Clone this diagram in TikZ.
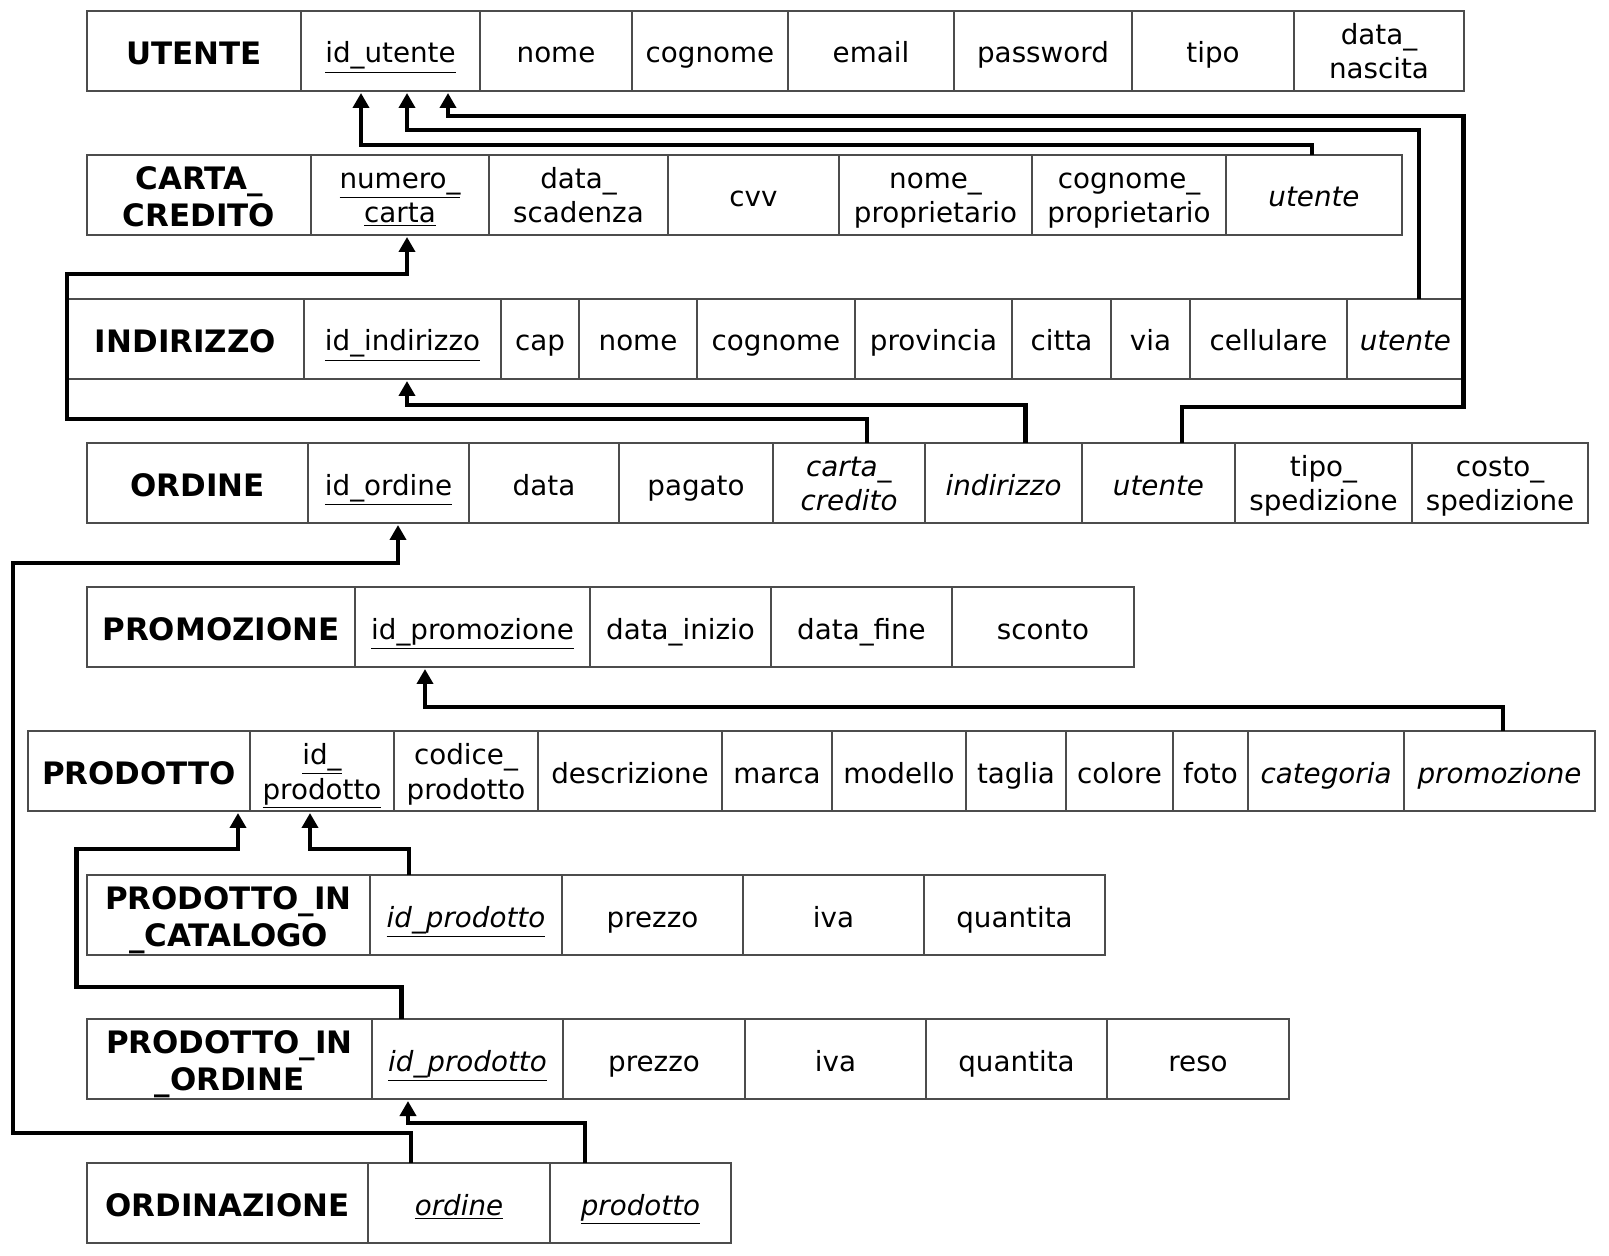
\documentclass[tikz,border=0pt]{standalone}
\usepackage{fontspec}
\setmainfont{DejaVu Sans}[BoldFont={DejaVu Sans Bold},ItalicFont={DejaVu Sans Oblique},BoldItalicFont={DejaVu Sans Bold Oblique}]
\usetikzlibrary{arrows.meta,calc}
\newcommand\attrfont{\fontsize{15.8}{19.6}\selectfont}
\newcommand\entfont{\fontsize{17.6}{21}\selectfont\bfseries}
\tikzset{
  cell/.style={draw=black!70, line width=0.8pt, anchor=north west, inner sep=0pt, outer sep=0pt,
    minimum width=#1*0.02cm, minimum height=1.6cm, align=center, font=\attrfont,
    text height=0.48cm, text depth=0pt},
  entity/.style={cell=#1, font=\entfont, text height=0.53cm},
  twolines/.style={text height=1.12cm, text depth=0pt},
  titletwo/.style={text height=1.26cm, text depth=0pt},
  fk/.style={line width=2.3pt, -{Triangle[length=0.3cm,width=0.32cm]}},
}
\begin{document}
\begin{tikzpicture}[x=0.02cm, y=-0.02cm]
  \useasboundingbox (0,0) rectangle (1609,1255);
  % UTENTE
  \node[entity=214] (ut) at (87,11) {UTENTE};
  \node[cell=179] (uid) at (ut.north east) {\underline{id\_utente}};
  \node[cell=152] (unome) at (uid.north east) {nome};
  \node[cell=156] (ucogn) at (unome.north east) {cognome};
  \node[cell=166] (umail) at (ucogn.north east) {email};
  \node[cell=178] (upass) at (umail.north east) {password};
  \node[cell=162] (utipo) at (upass.north east) {tipo};
  \node[cell=170, twolines] (unasc) at (utipo.north east) {data\_\\nascita};
  % CARTA_CREDITO
  \node[entity=224, titletwo] (ct) at (87,155) {CARTA\_\\CREDITO};
  \node[cell=178, twolines] (ccn) at (ct.north east) {\underline{numero\_}\\\underline{carta}};
  \node[cell=179, twolines] (cscad) at (ccn.north east) {data\_\\scadenza};
  \node[cell=171] (ccvv) at (cscad.north east) {cvv};
  \node[cell=193, twolines] (cnome) at (ccvv.north east) {nome\_\\proprietario};
  \node[cell=194, twolines] (ccogn) at (cnome.north east) {cognome\_\\proprietario};
  \node[cell=176] (cute) at (ccogn.north east) {\textit{utente}};
  % INDIRIZZO
  \node[entity=237] (it) at (67,299) {INDIRIZZO};
  \node[cell=197] (iid) at (it.north east) {\underline{id\_indirizzo}};
  \node[cell=78] (icap) at (iid.north east) {cap};
  \node[cell=118] (inome) at (icap.north east) {nome};
  \node[cell=158] (icogn) at (inome.north east) {cognome};
  \node[cell=157] (iprov) at (icogn.north east) {provincia};
  \node[cell=99] (icitta) at (iprov.north east) {citta};
  \node[cell=79] (ivia) at (icitta.north east) {via};
  \node[cell=157] (icell) at (ivia.north east) {cellulare};
  \node[cell=117] (iute) at (icell.north east) {\textit{utente}};
  % ORDINE
  \node[entity=221] (ot) at (87,443) {ORDINE};
  \node[cell=161] (oid) at (ot.north east) {\underline{id\_ordine}};
  \node[cell=150] (odata) at (oid.north east) {data};
  \node[cell=154] (opag) at (odata.north east) {pagato};
  \node[cell=152, twolines] (occ) at (opag.north east) {\textit{carta\_}\\\textit{credito}};
  \node[cell=157] (oind) at (occ.north east) {\textit{indirizzo}};
  \node[cell=153] (oute) at (oind.north east) {\textit{utente}};
  \node[cell=177, twolines] (otipo) at (oute.north east) {tipo\_\\spedizione};
  \node[cell=176, twolines] (ocosto) at (otipo.north east) {costo\_\\spedizione};
  % PROMOZIONE
  \node[entity=268] (mt) at (87,587) {PROMOZIONE};
  \node[cell=235] (mid) at (mt.north east) {\underline{id\_promozione}};
  \node[cell=181] (minizio) at (mid.north east) {data\_inizio};
  \node[cell=181] (mfine) at (minizio.north east) {data\_fine};
  \node[cell=182] (msconto) at (mfine.north east) {sconto};
  % PRODOTTO
  \node[entity=222] (pt) at (28,731) {PRODOTTO};
  \node[cell=144, twolines] (pid) at (pt.north east) {\underline{id\_}\\\underline{prodotto}};
  \node[cell=144, twolines] (pcod) at (pid.north east) {codice\_\\prodotto};
  \node[cell=184] (pdesc) at (pcod.north east) {descrizione};
  \node[cell=110] (pmarca) at (pdesc.north east) {marca};
  \node[cell=134] (pmod) at (pmarca.north east) {modello};
  \node[cell=100] (ptaglia) at (pmod.north east) {taglia};
  \node[cell=107] (pcol) at (ptaglia.north east) {colore};
  \node[cell=75] (pfoto) at (pcol.north east) {foto};
  \node[cell=156] (pcat) at (pfoto.north east) {\textit{categoria}};
  \node[cell=191] (pprom) at (pcat.north east) {\textit{promozione}};
  % PRODOTTO_IN_CATALOGO
  \node[entity=283, titletwo] (kt) at (87,875) {PRODOTTO\_IN\\\_CATALOGO};
  \node[cell=192] (kid) at (kt.north east) {\underline{\textit{id\_prodotto}}};
  \node[cell=181] (kprezzo) at (kid.north east) {prezzo};
  \node[cell=181] (kiva) at (kprezzo.north east) {iva};
  \node[cell=181] (kqta) at (kiva.north east) {quantita};
  % PRODOTTO_IN_ORDINE
  \node[entity=285, titletwo] (rt) at (87,1019) {PRODOTTO\_IN\\\_ORDINE};
  \node[cell=191] (rid) at (rt.north east) {\underline{\textit{id\_prodotto}}};
  \node[cell=182] (rprezzo) at (rid.north east) {prezzo};
  \node[cell=181] (riva) at (rprezzo.north east) {iva};
  \node[cell=181] (rqta) at (riva.north east) {quantita};
  \node[cell=182] (rreso) at (rqta.north east) {reso};
  % ORDINAZIONE
  \node[entity=281] (zt) at (87,1163) {ORDINAZIONE};
  \node[cell=182] (zord) at (zt.north east) {\underline{\textit{ordine}}};
  \node[cell=181] (zprod) at (zord.north east) {\underline{\textit{prodotto}}};
  % foreign keys
  \begin{scope}[fk]
    \draw ($(cute.north)+(-2,0)$) -- ++(0,-10) -| ($(uid.south)+(-29.5,2)$);
    \draw ($(iute.north)+(13.5,0)$) -- ++(0,-169) -| ($(uid.south)+(16.5,2)$);
    \draw ($(oute.north)+(23.5,0)$) -- ++(0,-36) -| ++(281.5,-291) -| ($(uid.south)+(57.5,2)$);
    \draw ($(occ.north)+(18,0)$) -- ++(0,-24) -| ++(-800,-145) -| ($(ccn.south)+(7,2)$);
    \draw ($(oind.north)+(22,0)$) -- ++(0,-38) -| ($(iid.south)+(4.5,2)$);
    \draw ($(zord.north)+(-48,0)$) -- ++(0,-30) -| ++(-398,-570) -| ($(oid.south)+(9.5,2)$);
    \draw ($(pprom.north)+(3.5,0)$) -- ++(0,-24) -| ($(mid.south)+(-47.5,2)$);
    \draw ($(kid.north)+(-57,0)$) -- ++(0,-26) -| ($(pid.south)+(-12,2)$);
    \draw ($(rid.north)+(-66,0)$) -- ++(0,-32) -| ++(-325,-138) -| ($(pt.south east)+(-12,2)$);
    \draw ($(zprod.north)+(-55.5,0)$) -- ++(0,-40) -| ($(rid.south)+(-59.5,2)$);
  \end{scope}
\end{tikzpicture}
\end{document}
